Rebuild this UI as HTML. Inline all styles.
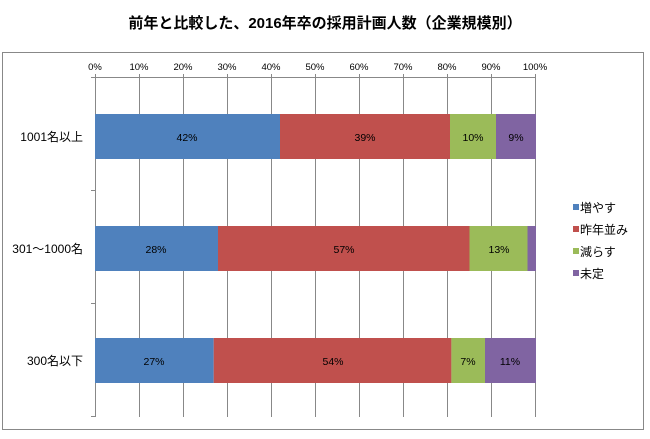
<!DOCTYPE html>
<html><head><meta charset="utf-8"><style>
body{margin:0;background:#fff;}
svg text{font-family:"Liberation Sans","Noto Sans CJK JP",sans-serif;}
</style></head><body>
<svg width="650" height="434" xmlns="http://www.w3.org/2000/svg">
<rect width="650" height="434" fill="#fff"/>
<text x="325" y="28" text-anchor="middle" font-size="15" font-weight="bold" fill="#000">前年と比較した、2016年卒の採用計画人数（企業規模別）</text>
<rect x="2.5" y="52.5" width="641" height="377" fill="none" stroke="#888" stroke-width="1"/>
<g stroke="#888" stroke-width="1">
<line x1="95" y1="77.5" x2="535" y2="77.5"/>
<line x1="95.5" y1="74" x2="95.5" y2="417"/>
<line x1="139.5" y1="74" x2="139.5" y2="417"/>
<line x1="183.5" y1="74" x2="183.5" y2="417"/>
<line x1="227.5" y1="74" x2="227.5" y2="417"/>
<line x1="271.5" y1="74" x2="271.5" y2="417"/>
<line x1="315.5" y1="74" x2="315.5" y2="417"/>
<line x1="359.5" y1="74" x2="359.5" y2="417"/>
<line x1="403.5" y1="74" x2="403.5" y2="417"/>
<line x1="447.5" y1="74" x2="447.5" y2="417"/>
<line x1="491.5" y1="74" x2="491.5" y2="417"/>
<line x1="535.5" y1="74" x2="535.5" y2="417"/>
<line x1="91" y1="77.5" x2="95" y2="77.5"/>
<line x1="91" y1="190.5" x2="95" y2="190.5"/>
<line x1="91" y1="303.5" x2="95" y2="303.5"/>
<line x1="91" y1="416.5" x2="95" y2="416.5"/>
</g>
<g font-size="9.5" fill="#000" text-anchor="middle">
<text x="95" y="70">0%</text><text x="139" y="70">10%</text><text x="183" y="70">20%</text><text x="227" y="70">30%</text><text x="271" y="70">40%</text><text x="315" y="70">50%</text><text x="359" y="70">60%</text><text x="403" y="70">70%</text><text x="447" y="70">80%</text><text x="491" y="70">90%</text><text x="535" y="70">100%</text>
</g>
<rect x="95" y="114" width="185" height="45" fill="#4f81bd"/>
<rect x="280" y="114" width="170" height="45" fill="#c0504d"/>
<rect x="450" y="114" width="46" height="45" fill="#9bbb59"/>
<rect x="496" y="114" width="40" height="45" fill="#8064a2"/>
<rect x="95" y="226" width="123" height="45" fill="#4f81bd"/>
<rect x="218" y="226" width="251.5" height="45" fill="#c0504d"/>
<rect x="469.5" y="226" width="58" height="45" fill="#9bbb59"/>
<rect x="527.5" y="226" width="8.5" height="45" fill="#8064a2"/>
<rect x="95" y="338" width="118.7" height="45" fill="#4f81bd"/>
<rect x="213.7" y="338" width="237.7" height="45" fill="#c0504d"/>
<rect x="451.4" y="338" width="33.6" height="45" fill="#9bbb59"/>
<rect x="485" y="338" width="51" height="45" fill="#8064a2"/>
<g font-size="10.5" fill="#000" text-anchor="middle">
<text x="187" y="141">42%</text><text x="365" y="141">39%</text><text x="473" y="141">10%</text><text x="516" y="141">9%</text>
<text x="156" y="253">28%</text><text x="344" y="253">57%</text><text x="499" y="253">13%</text>
<text x="154" y="365">27%</text><text x="333" y="365">54%</text><text x="468" y="365">7%</text><text x="510" y="365">11%</text>
</g>
<g font-size="12" fill="#000" text-anchor="end">
<text x="83" y="141">1001名以上</text>
<text x="83" y="253">301～1000名</text>
<text x="83" y="365">300名以下</text>
</g>
<g font-size="12" fill="#000">
<rect x="573" y="204" width="6" height="6" fill="#4f81bd"/><text x="580" y="212">増やす</text>
<rect x="573" y="226" width="6" height="6" fill="#c0504d"/><text x="580" y="234">昨年並み</text>
<rect x="573" y="248" width="6" height="6" fill="#9bbb59"/><text x="580" y="256">減らす</text>
<rect x="573" y="270" width="6" height="6" fill="#8064a2"/><text x="580" y="278">未定</text>
</g>
</svg>
</body></html>
